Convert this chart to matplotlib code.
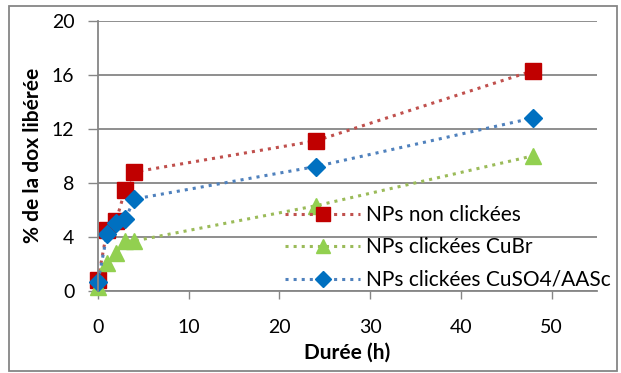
import matplotlib
matplotlib.use("Agg")
import matplotlib.pyplot as plt
from matplotlib.patches import Rectangle

plt.rcParams["font.family"] = ["Lato", "DejaVu Sans"]

# release data, % of dox released vs time (h)
temps = [0, 1, 2, 3, 4, 24, 48]
non_clickees = [0.85, 4.5, 5.2, 7.5, 8.8, 11.1, 16.3]
clickees_cubr = [0.3, 2.05, 2.8, 3.7, 3.7, 6.3, 10.0]
clickees_cuso4 = [0.7, 4.2, 5.0, 5.3, 6.8, 9.2, 12.8]

labels = ["NPs non clickées", "NPs clickées CuBr", "NPs clickées CuSO4/AASc"]
yticks = [0, 4, 8, 12, 16, 20]
xticks = [0, 10, 20, 30, 40, 50]

GRID = "#868686"

fig = plt.figure(figsize=(6.21, 3.73), dpi=100)
ax = fig.add_axes([98 / 621, 1 - 291 / 373, 499 / 621, 270.5 / 373])

ax.plot(temps, non_clickees, linestyle=":", lw=2.2, color="#C0504D",
        marker="s", ms=12, mfc="#C00000", mec="#C00000", label=labels[0],
        clip_on=False)
ax.plot(temps, clickees_cubr, linestyle=":", lw=2.2, color="#9BBB59",
        marker="^", ms=12, mfc="#92D050", mec="#92D050", label=labels[1],
        clip_on=False)
ax.plot(temps, clickees_cuso4, linestyle=":", lw=2.2, color="#4F81BD",
        marker="D", ms=9, mfc="#0070C0", mec="#0070C0", label=labels[2],
        clip_on=False)

ax.set_xlim(0, 55)
ax.set_ylim(0, 20)
ax.set_xticks(xticks)
ax.set_yticks(yticks)
ax.yaxis.grid(True, color=GRID, lw=1.3)
ax.set_axisbelow(True)
ax.tick_params(axis="both", colors=GRID, labelcolor="black", labelsize=14,
               length=6, width=1)
ax.tick_params(axis="x", pad=14)
ax.tick_params(axis="y", length=7, pad=10)
for s in ("top", "right"):
    ax.spines[s].set_visible(False)
for s in ("left", "bottom"):
    ax.spines[s].set_color(GRID)
    ax.spines[s].set_linewidth(1.3)
ax.spines["bottom"].set_zorder(0.5)

ax.set_xlabel("Durée (h)", fontsize=15, fontweight="bold", labelpad=5)
ax.set_ylabel("% de la dox libérée", fontsize=15, fontweight="bold", labelpad=6)

leg = ax.legend(loc="lower left", bbox_to_anchor=(0.375, 0.004), frameon=False,
                fontsize=15, handlelength=3.6, handletextpad=0.3,
                labelspacing=0.6, borderpad=0, borderaxespad=0)
for h in leg.legend_handles:
    h.set_markersize(h.get_markersize() * 0.85)

# outer chart frame
fig.patches.append(Rectangle((9 / 621, 2 / 373), 608 / 621, 365 / 373,
                             transform=fig.transFigure, fill=False,
                             edgecolor=GRID, lw=1.3))

fig.savefig("out.png", dpi=100)
